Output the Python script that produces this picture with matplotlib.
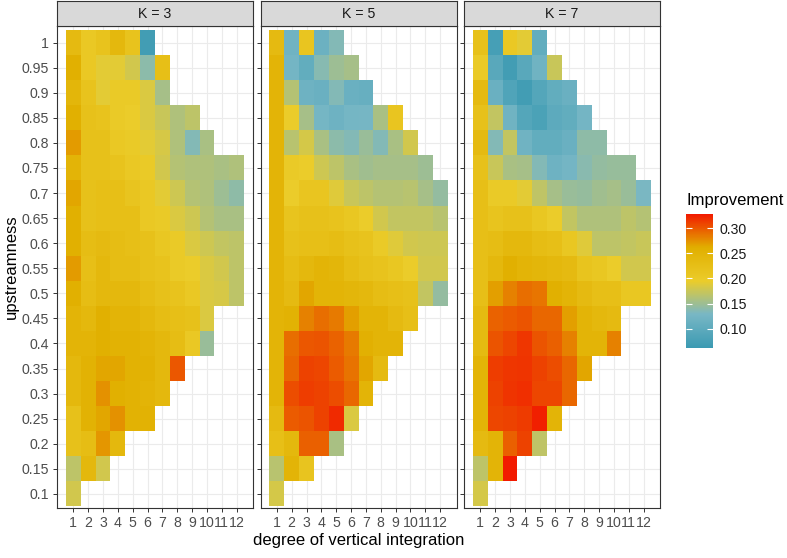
import numpy as np
import matplotlib
matplotlib.use('Agg')
import matplotlib.pyplot as plt
from matplotlib.colors import LinearSegmentedColormap, Normalize
from matplotlib.cm import ScalarMappable

# x axis: degree of vertical integration, y axis: upstreamness (top row first)
degree = list(range(1, 13))
upstreamness = [1.0, 0.95, 0.9, 0.85, 0.8, 0.75, 0.7, 0.65, 0.6, 0.55,
                0.5, 0.45, 0.4, 0.35, 0.3, 0.25, 0.2, 0.15, 0.1]

# improvement per row, starting at degree 1 (rows are ragged)
k3_rows = [
    [0.235, 0.205, 0.215, 0.24, 0.215, 0.07],
    [0.26, 0.205, 0.19, 0.19, 0.18, 0.14, 0.225],
    [0.245, 0.215, 0.19, 0.2, 0.2, 0.185, 0.155],
    [0.26, 0.22, 0.215, 0.2, 0.195, 0.185, 0.175, 0.16, 0.168],
    [0.27, 0.22, 0.22, 0.205, 0.2, 0.19, 0.183, 0.16, 0.135, 0.157],
    [0.25, 0.22, 0.22, 0.215, 0.205, 0.2, 0.18, 0.163, 0.16, 0.16, 0.157, 0.16],
    [0.265, 0.22, 0.225, 0.225, 0.212, 0.205, 0.19, 0.178, 0.163, 0.16, 0.15, 0.142],
    [0.26, 0.22, 0.225, 0.225, 0.225, 0.205, 0.2, 0.185, 0.178, 0.163, 0.157, 0.157],
    [0.26, 0.23, 0.235, 0.23, 0.225, 0.22, 0.207, 0.2, 0.185, 0.178, 0.172, 0.168],
    [0.27, 0.225, 0.24, 0.23, 0.23, 0.22, 0.215, 0.2, 0.195, 0.185, 0.18, 0.168],
    [0.26, 0.23, 0.24, 0.24, 0.24, 0.23, 0.22, 0.215, 0.205, 0.185, 0.183, 0.168],
    [0.25, 0.24, 0.26, 0.25, 0.25, 0.24, 0.23, 0.225, 0.22, 0.185],
    [0.25, 0.25, 0.26, 0.255, 0.255, 0.25, 0.24, 0.23, 0.205, 0.148],
    [0.24, 0.255, 0.265, 0.265, 0.255, 0.255, 0.24, 0.30],
    [0.24, 0.255, 0.275, 0.26, 0.255, 0.25, 0.24],
    [0.22, 0.255, 0.265, 0.275, 0.255, 0.255],
    [0.22, 0.23, 0.272, 0.24],
    [0.168, 0.24, 0.18],
    [0.18],
]

k5_rows = [
    [0.235, 0.12, 0.21, 0.115, 0.135],
    [0.25, 0.125, 0.105, 0.137, 0.15, 0.155],
    [0.25, 0.163, 0.118, 0.113, 0.135, 0.113, 0.11],
    [0.25, 0.195, 0.155, 0.126, 0.118, 0.126, 0.127, 0.157, 0.21],
    [0.25, 0.165, 0.182, 0.157, 0.14, 0.135, 0.148, 0.135, 0.157, 0.18],
    [0.25, 0.2, 0.195, 0.178, 0.168, 0.157, 0.152, 0.155, 0.155, 0.155, 0.15],
    [0.25, 0.195, 0.21, 0.21, 0.188, 0.175, 0.168, 0.163, 0.163, 0.165, 0.155, 0.145],
    [0.25, 0.213, 0.22, 0.22, 0.215, 0.207, 0.195, 0.18, 0.172, 0.172, 0.172, 0.165],
    [0.25, 0.22, 0.225, 0.225, 0.23, 0.22, 0.215, 0.2, 0.188, 0.18, 0.178, 0.178],
    [0.25, 0.23, 0.24, 0.25, 0.245, 0.23, 0.22, 0.215, 0.207, 0.195, 0.18, 0.18],
    [0.25, 0.235, 0.265, 0.25, 0.25, 0.245, 0.24, 0.23, 0.225, 0.22, 0.172, 0.145],
    [0.25, 0.255, 0.282, 0.29, 0.285, 0.268, 0.25, 0.25, 0.235, 0.225],
    [0.25, 0.29, 0.30, 0.302, 0.295, 0.285, 0.258, 0.25, 0.25],
    [0.25, 0.293, 0.31, 0.308, 0.298, 0.288, 0.265, 0.235],
    [0.25, 0.305, 0.312, 0.31, 0.305, 0.293, 0.25],
    [0.235, 0.298, 0.302, 0.31, 0.32, 0.185],
    [0.225, 0.24, 0.296, 0.296, 0.157],
    [0.165, 0.25, 0.212],
    [0.182],
]

k7_rows = [
    [0.22, 0.075, 0.205, 0.19, 0.105],
    [0.2, 0.095, 0.07, 0.095, 0.12, 0.175],
    [0.235, 0.113, 0.085, 0.07, 0.09, 0.105, 0.113],
    [0.22, 0.172, 0.12, 0.09, 0.08, 0.1, 0.105, 0.125],
    [0.235, 0.135, 0.172, 0.12, 0.105, 0.105, 0.113, 0.142, 0.142],
    [0.22, 0.175, 0.157, 0.155, 0.135, 0.118, 0.125, 0.138, 0.145, 0.147, 0.147],
    [0.225, 0.2, 0.2, 0.19, 0.17, 0.155, 0.148, 0.146, 0.152, 0.155, 0.148, 0.13],
    [0.225, 0.213, 0.22, 0.22, 0.207, 0.195, 0.172, 0.16, 0.16, 0.16, 0.168, 0.163],
    [0.225, 0.23, 0.24, 0.24, 0.23, 0.225, 0.207, 0.188, 0.168, 0.168, 0.172, 0.175],
    [0.225, 0.24, 0.26, 0.25, 0.245, 0.24, 0.235, 0.213, 0.207, 0.195, 0.18, 0.18],
    [0.225, 0.268, 0.282, 0.29, 0.287, 0.26, 0.25, 0.235, 0.225, 0.225, 0.207, 0.207],
    [0.235, 0.295, 0.298, 0.302, 0.293, 0.293, 0.268, 0.25, 0.24, 0.235],
    [0.235, 0.302, 0.308, 0.315, 0.302, 0.296, 0.282, 0.25, 0.25, 0.282],
    [0.25, 0.312, 0.315, 0.316, 0.31, 0.305, 0.293, 0.265],
    [0.25, 0.31, 0.316, 0.318, 0.308, 0.308, 0.293],
    [0.25, 0.308, 0.31, 0.313, 0.325, 0.25],
    [0.235, 0.25, 0.296, 0.31, 0.17],
    [0.168, 0.25, 0.327],
    [0.182],
]

panel_names = ['K = 3', 'K = 5', 'K = 7']
zissou = ['#3B9AB2', '#78B7C5', '#EBCC2A', '#E1AF00', '#F21A00']
cbar_ticks = [0.10, 0.15, 0.20, 0.25, 0.30]

W, H = 787, 558
plt.rcParams['font.family'] = ['Liberation Sans', 'DejaVu Sans']


def to_grid(rows):
    """Turn ragged rows into a 2D array (NaN where there is no tile)."""
    grid = np.full((len(upstreamness), len(degree)), np.nan)
    for i, row in enumerate(rows):
        grid[i, :len(row)] = row
    return grid


def fbox(left, top, width, height):
    """pixel box (from top left) -> figure fraction rect"""
    return [left / W, 1 - (top + height) / H, width / W, height / H]


def make_fig():
    fig = plt.figure(figsize=(W / 100, H / 100), dpi=100)
    cmap = LinearSegmentedColormap.from_list('zissou', zissou)
    norm = Normalize(vmin=0.062, vmax=0.328)

    x = np.array(degree, dtype=float)
    y = np.array(upstreamness)
    x_edges = np.concatenate([x - 0.5, [x[-1] + 0.5]])
    y_edges = np.concatenate([y + 0.025, [y[-1] - 0.025]])

    lefts = [57, 260.5, 464]
    for i, rows in enumerate([k3_rows, k5_rows, k7_rows]):
        ax = fig.add_axes(fbox(lefts[i], 26, 196, 482))
        ax.pcolormesh(x_edges, y_edges, np.ma.masked_invalid(to_grid(rows)),
                      cmap=cmap, norm=norm, shading='flat', antialiased=False,
                      linewidth=0)
        ax.set_xlim(-0.1, 13.1)
        ax.set_ylim(0.072, 1.033)
        ax.set_xticks(degree)
        ax.set_xticklabels([str(d) for d in degree])
        ax.set_yticks(upstreamness)
        if i == 0:
            ax.set_yticklabels(['{:g}'.format(u) for u in upstreamness])
        else:
            ax.set_yticklabels([])
            ax.tick_params(axis='y', length=0)
        ax.set_axisbelow(True)
        ax.grid(color='#EBEBEB', linewidth=0.8)
        ax.tick_params(labelsize=10.2, labelcolor='#4D4D4D', color='#333333',
                       length=3, width=0.7, pad=3)
        for s in ax.spines.values():
            s.set_color('#333333')
            s.set_linewidth(0.8)

        # facet strip
        sx = fig.add_axes(fbox(lefts[i], 1, 196, 25))
        sx.set_facecolor('#D9D9D9')
        sx.set_xticks([])
        sx.set_yticks([])
        for s in sx.spines.values():
            s.set_color('#333333')
            s.set_linewidth(0.8)
        sx.text(0.5, 0.5, panel_names[i], ha='center', va='center',
                fontsize=10.2, color='#1A1A1A', transform=sx.transAxes)

    fig.text(358.5 / W, 1 - 541 / H, 'degree of vertical integration',
             ha='center', va='center', fontsize=12)
    fig.text(11 / W, 1 - 267 / H, 'upstreamness', rotation=90,
             ha='center', va='center', fontsize=12)

    # colour bar legend
    cax = fig.add_axes(fbox(686, 214, 27, 134))
    cb = fig.colorbar(ScalarMappable(norm=norm, cmap=cmap), cax=cax,
                      ticks=cbar_ticks)
    cb.outline.set_visible(False)
    cb.set_ticklabels(['{:.2f}'.format(t) for t in cbar_ticks])
    cax.yaxis.set_ticks_position('both')
    cax.tick_params(direction='in', color='white', length=4, width=0.8,
                    labelsize=10.2, labelcolor='#1A1A1A', pad=5)
    fig.text(686 / W, 1 - 201 / H, 'Improvement', ha='left', va='center',
             fontsize=12)
    return fig


def main():
    fig = make_fig()
    fig.savefig('out.png', dpi=100)


main()
